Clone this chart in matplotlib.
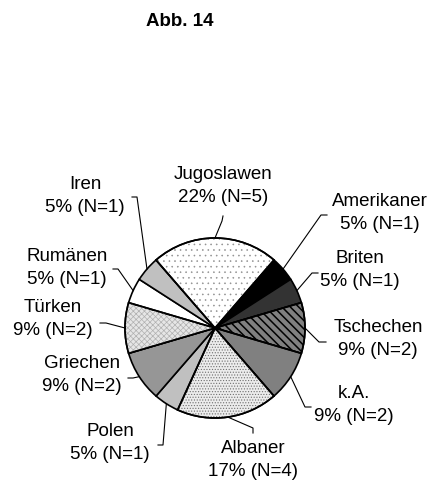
import matplotlib
matplotlib.use('Agg')
import matplotlib.pyplot as plt
from matplotlib.patches import Wedge
import numpy as np

plt.rcParams['font.family'] = ['Liberation Sans', 'DejaVu Sans']
plt.rcParams['hatch.linewidth'] = 0.6

W, H = 437, 486

# data, clockwise from the top right
gruppen = ['Amerikaner', 'Briten', 'Tschechen', 'k.A.', 'Albaner', 'Polen',
           'Griechen', 'Türken', 'Rumänen', 'Iren', 'Jugoslawen']
anzahl = [1, 1, 2, 2, 4, 1, 2, 2, 1, 1, 5]
prozent = ['5%', '5%', '9%', '9%', '17%', '5%', '9%', '9%', '5%', '5%', '22%']

farben = ['#000000', '#333333', '#808080', '#808080', '#ececec', '#c0c0c0',
          '#969696', '#e6e6e6', '#ffffff', '#c0c0c0', '#ffffff']
muster = [None, None, '\\\\\\\\', None, '......', None,
          None, 'xxxxxx', None, None, '...']
musterfarbe = [None, None, 'black', None, '#707070', None,
               None, '#b0b0b0', None, None, '#909090']
musterbreite = [None, None, 1.1, None, 0.5, None, None, 0.5, None, None, 0.4]

# label layout (pixel positions from top left)
text_pos = [(380, 213), (360, 270), (378, 339), (354, 405), (253, 460), (110, 443),
            (82, 375), (53, 319), (67, 268), (85, 196), (223, 186)]
knick = [(321, 215), (312, 273), (319, 342), (305, 407), (253, 428), (163, 445),
         (133, 378), (106, 323), (118, 269), (137, 197), (222, 221)]
strich = [(327, 215), (318, 273), (326, 342), (311, 407), (253, 433), (158, 445),
          (128, 378), (100, 323), (113, 269), (132, 197), (223, 216)]

mitte = (215, H - 328)
radius = 90

fig = plt.figure(figsize=(W / 100, H / 100), dpi=100)
ax = fig.add_axes([0, 0, 1, 1])

total = sum(anzahl)
wedges, _ = ax.pie(anzahl, colors=farben, startangle=90 - anzahl[-1] / total * 180,
                   counterclock=False, center=mitte, radius=radius,
                   wedgeprops=dict(edgecolor='black', linewidth=1.2))

for w, m, mf, mb in zip(wedges, muster, musterfarbe, musterbreite):
    if m is None:
        continue
    h = Wedge(w.center, w.r, w.theta1, w.theta2, fill=False,
              edgecolor=mf, linewidth=0, hatch=m, zorder=w.get_zorder() + 0.1)
    if hasattr(h, 'set_hatch_linewidth'):
        h.set_hatch_linewidth(mb)
    ax.add_patch(h)
    ax.add_patch(Wedge(w.center, w.r, w.theta1, w.theta2, fill=False,
                       edgecolor='black', linewidth=1.2, zorder=w.get_zorder() + 0.2))

for w, name, p, n, tp, kn, st in zip(wedges, gruppen, prozent, anzahl, text_pos, knick, strich):
    ax.text(tp[0], H - tp[1], name + '\n' + p + ' (N=' + str(n) + ')',
            ha='center', va='center', multialignment='center',
            fontsize=13.5, linespacing=1.45)
    a = np.deg2rad((w.theta1 + w.theta2) / 2)
    rx = w.center[0] + w.r * np.cos(a)
    ry = w.center[1] + w.r * np.sin(a)
    ax.plot([st[0], kn[0], rx], [H - st[1], H - kn[1], ry], color='black', lw=0.8)

ax.text(180, H - 22, 'Abb. 14', ha='center', va='center', fontsize=13.5, fontweight='bold')

ax.set_xlim(0, W)
ax.set_ylim(0, H)
ax.axis('off')

fig.savefig('out.png', dpi=100)
